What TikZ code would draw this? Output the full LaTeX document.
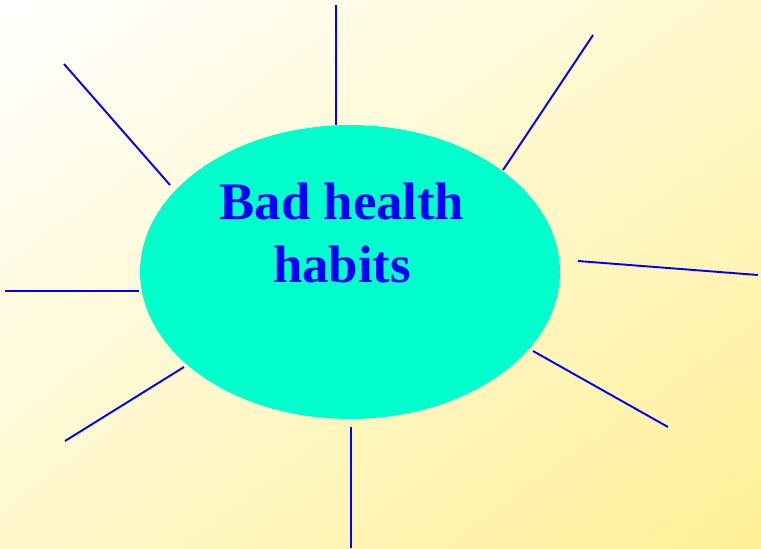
\documentclass[tikz,border=0pt]{standalone}
\usepackage{fontspec}
\setmainfont{Liberation Serif}
\usepackage{tikz}
\usetikzlibrary{shapes.geometric, shadings}
\definecolor{spoke}{HTML}{0000FF}
\definecolor{blob}{HTML}{00FFCC}
\definecolor{paleyellow}{HTML}{FFF8CC}
\definecolor{deepyellow}{HTML}{FFF096}

\begin{document}
\begin{tikzpicture}[
  x=0.02cm, y=-0.02cm,
  ray/.style={draw=spoke, line width=1.1pt},
  hub/.style={ellipse, fill=blob, minimum width=8.4cm, minimum height=5.88cm, inner sep=0pt}
]
% background
\shade[upper left=white, upper right=paleyellow, lower left=paleyellow, lower right=deepyellow]
  (0,0) rectangle (761,548);
\useasboundingbox (0,0) rectangle (761,548);

\node[hub] (habits) at (350,272) {};
\node[text=spoke, font=\fontsize{30}{36}\selectfont\bfseries, align=center] (label) at (342,233) {Bad health\\habits};

% spokes
\coordinate (n1) at (336,5);    \coordinate (n2) at (336,125);
\coordinate (ne1) at (593,35);  \coordinate (ne2) at (503,170);
\coordinate (e1) at (758,275);  \coordinate (e2) at (578,261);
\coordinate (se1) at (668,427); \coordinate (se2) at (533,351);
\coordinate (s1) at (351,548);  \coordinate (s2) at (351,427);
\coordinate (sw1) at (65,441);  \coordinate (sw2) at (184,367);
\coordinate (w1) at (5,291);    \coordinate (w2) at (139,291);
\coordinate (nw1) at (64,64);   \coordinate (nw2) at (170,185);

\draw[ray] (n1) -- (n2);
\draw[ray] (ne1) -- (ne2);
\draw[ray] (e1) -- (e2);
\draw[ray] (se1) -- (se2);
\draw[ray] (s1) -- (s2);
\draw[ray] (sw1) -- (sw2);
\draw[ray] (w1) -- (w2);
\draw[ray] (nw1) -- (nw2);
\end{tikzpicture}
\end{document}
